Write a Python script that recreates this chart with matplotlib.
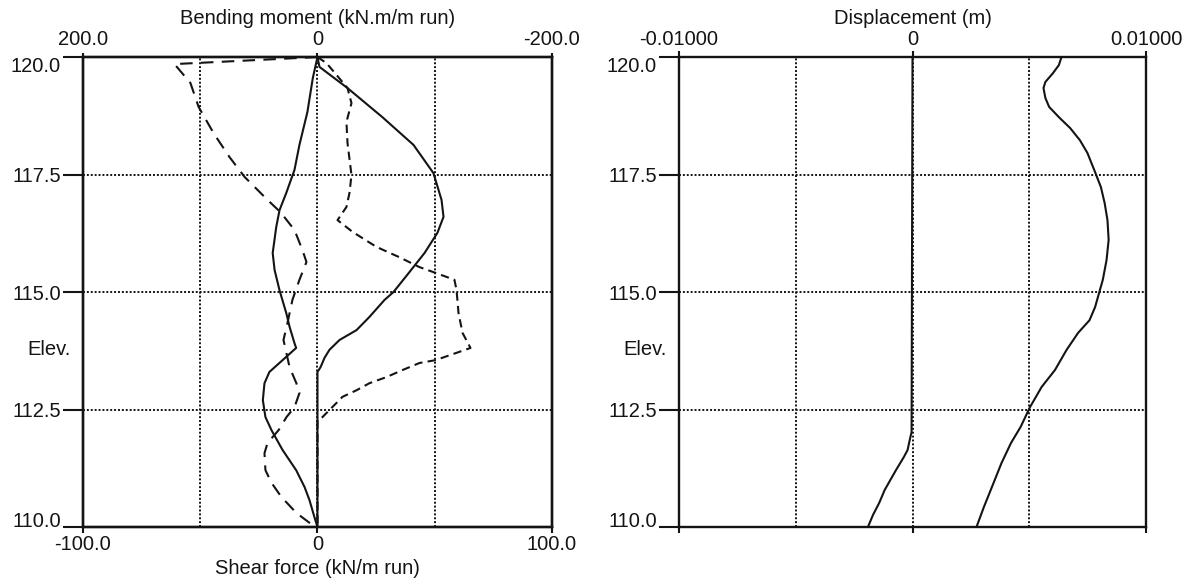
import matplotlib
matplotlib.use('Agg')
import matplotlib.pyplot as plt
from matplotlib.ticker import FixedLocator, FuncFormatter

# --- wall results, elevation (m) vs value -------------------------------
# shear force (kN/m run), bottom scale of the left panel
shear_a_elev = [120.0, 119.55, 118.83, 118.13, 117.60, 117.11, 116.74, 116.38, 115.83,
                115.47, 115.04, 114.55, 114.26, 113.91, 113.81, 113.55, 113.30, 113.06,
                112.70, 112.34, 112.06, 111.64, 111.21, 110.85, 110.57, 110.21, 110.0]
shear_a = [0, -2.0, -4.3, -7.7, -9.8, -13.3, -16.2, -17.6, -19.1,
           -18.3, -16.2, -13.3, -11.9, -9.8, -9.1, -14.9, -20.5, -22.6,
           -23.3, -22.2, -19.6, -14.9, -9.1, -5.5, -3.4, -1.3, 0]

shear_b_elev = [120.0, 119.85, 119.45, 118.94, 118.38, 117.87, 117.45, 116.96, 116.70,
                116.32, 115.89, 115.64, 115.26, 114.83, 114.34, 113.98, 113.40, 113.06,
                112.85, 112.55, 112.34, 112.06, 111.79, 111.57, 111.21, 110.94, 110.64,
                110.30, 110.04, 110.0]
shear_b = [0, -61.0, -54.2, -50.7, -44.3, -37.5, -31.1, -21.3, -15.8,
           -9.8, -6.4, -4.7, -7.7, -10.7, -12.8, -14.5, -11.9, -9.0,
           -7.7, -9.8, -13.2, -16.6, -21.3, -22.6, -22.2, -19.6, -15.4,
           -9.0, -2.1, 0]

# bending moment (kN.m/m run), top scale of the left panel
moment_a_elev = [120.0, 119.79, 119.34, 118.72, 118.13, 117.53, 116.96, 116.60, 116.26,
                 115.83, 115.32, 115.0, 114.83, 114.47, 114.19, 113.98, 113.77, 113.60,
                 113.40, 113.30, 110.0]
moment_a = [0, -1.7, -25.6, -55.4, -81.9, -98.9, -105.8, -107.5, -102.3,
            -91.3, -75.1, -64.8, -57.1, -44.3, -33.3, -18.8, -10.2, -6.0,
            -2.6, 0, 0]

moment_b_elev = [120.0, 119.87, 119.62, 119.34, 119.02, 118.62, 118.17, 117.49, 117.11,
                 116.81, 116.53, 116.28, 115.96, 115.74, 115.53, 115.40, 115.26, 115.04,
                 114.55, 114.13, 113.81, 113.55, 113.49, 113.34, 113.19, 113.06, 112.91,
                 112.77, 112.64, 112.49, 112.34, 112.28, 110.0]
moment_b = [0, -7.7, -16.2, -25.6, -29.0, -24.7, -25.6, -29.0, -27.3,
            -24.7, -17.1, -29.9, -50.3, -69.9, -87.0, -101.5, -116.8, -118.6,
            -120.3, -123.7, -130.5, -100.6, -87.0, -72.5, -58.8, -44.3, -33.3,
            -21.3, -16.2, -10.2, -4.3, 0, 0]

# displacement (m), right panel
disp_a_elev = [120.0, 112.02, 111.85, 111.64, 111.49, 111.21, 111.0, 110.79, 110.51,
               110.26, 110.0]
disp_a = [0, -0.00004, -0.00012, -0.00021, -0.00037, -0.00071, -0.00095, -0.00119,
          -0.00143, -0.00169, -0.00191]

disp_b_elev = [120.0, 119.83, 119.66, 119.47, 119.34, 119.13, 118.94, 118.72, 118.49,
               118.23, 117.96, 117.55, 117.23, 116.89, 116.53, 116.11, 115.68, 115.26,
               114.98, 114.68, 114.40, 114.13, 113.77, 113.34, 112.98, 112.55, 112.13,
               111.79, 111.36, 110.85, 110.43, 110.0]
disp_b = [0.00638, 0.00627, 0.00602, 0.00569, 0.00561, 0.00569, 0.00585, 0.00627, 0.00675,
          0.00717, 0.00749, 0.00782, 0.00807, 0.00823, 0.00835, 0.00840, 0.00831, 0.00815,
          0.00799, 0.00782, 0.00758, 0.00709, 0.00660, 0.00610, 0.00553, 0.00503, 0.00463,
          0.00422, 0.00381, 0.00340, 0.00306, 0.00274]

elev_ticks = [110.0, 112.5, 115.0, 117.5, 120.0]
shear_ticks = [-100.0, 0.0, 100.0]
shear_grid = [-50.0, 50.0]
moment_ticks = [200.0, 0.0, -200.0]
disp_ticks = [-0.01, 0.0, 0.01]
disp_grid = [-0.005, 0.005]

plt.rcParams['font.family'] = ['Liberation Sans', 'DejaVu Sans']
plt.rcParams['font.size'] = 14.5
plt.rcParams['axes.unicode_minus'] = False

INK = '#141414'
LW = 1.5
DOTS = (0, (1, 1))


def fmt_num(v, pos):
    return '0' if v == 0 else f'{v:.1f}'


def fmt_disp(v, pos):
    return '0' if v == 0 else f'{v:.5f}'


def style_frame(ax):
    for sp in ax.spines.values():
        sp.set_linewidth(1.7)
        sp.set_color(INK)


def setup_elev_axis(ax):
    ax.set_ylim(110.0, 120.0)
    ax.yaxis.set_major_locator(FixedLocator(elev_ticks))
    ax.yaxis.set_major_formatter(FuncFormatter(fmt_num))
    ax.tick_params(axis='y', direction='out', length=14.5, width=1.5, pad=1.5,
                   colors=INK, labelsize=14.5)
    ax.grid(True, axis='y', which='major', color=INK, linestyle=DOTS, linewidth=1.4)
    # keep the end labels inside the elevation range
    ticks = ax.yaxis.get_major_ticks()
    ticks[0].label1.set_va('baseline')
    ticks[-1].label1.set_va('top')
    ax.set_ylabel('Elev.', rotation=0, ha='center', va='center', color=INK)
    ax.yaxis.set_label_coords(-0.073, 0.377)


fig = plt.figure(figsize=(11.94, 5.88), dpi=100)
fig.patch.set_facecolor('white')

# ---------------- left panel: shear force / bending moment ----------------
ax_sf = fig.add_axes([0.0695, 0.1037, 0.3928, 0.7993])
ax_sf.set_axisbelow(True)
ax_sf.set_xlim(-100, 100)
ax_sf.xaxis.set_major_locator(FixedLocator(shear_ticks))
ax_sf.xaxis.set_minor_locator(FixedLocator(shear_grid))
ax_sf.xaxis.set_major_formatter(FuncFormatter(fmt_num))
ax_sf.tick_params(axis='x', which='major', direction='out', length=4, width=1.5,
                  pad=2, colors=INK)
ax_sf.tick_params(axis='x', which='minor', length=0)
ax_sf.grid(True, axis='x', which='both', color=INK, linestyle=DOTS, linewidth=1.4)
setup_elev_axis(ax_sf)
ax_sf.set_xlabel('Shear force (kN/m run)', labelpad=3, color=INK)

ax_sf.plot(shear_a, shear_a_elev, color=INK, lw=LW)
ax_sf.plot(shear_b, shear_b_elev, color=INK, lw=LW, linestyle=(0, (6, 4)))

ax_bm = ax_sf.twiny()
ax_bm.set_xlim(200, -200)
ax_bm.xaxis.set_major_locator(FixedLocator(moment_ticks))
ax_bm.xaxis.set_major_formatter(FuncFormatter(fmt_num))
ax_bm.tick_params(axis='x', direction='out', length=3, width=1.5, pad=3, colors=INK)
ax_bm.set_xlabel('Bending moment (kN.m/m run)', labelpad=4, color=INK)
ax_bm.plot(moment_a, moment_a_elev, color=INK, lw=LW)
ax_bm.plot(moment_b, moment_b_elev, color=INK, lw=LW, linestyle=(0, (4, 2.5)))
style_frame(ax_sf)
style_frame(ax_bm)

# ---------------- right panel: displacement ----------------
ax_d = fig.add_axes([0.5687, 0.1037, 0.3911, 0.7993])
ax_d.set_axisbelow(True)
ax_d.set_xlim(-0.01, 0.01)
ax_d.xaxis.set_major_locator(FixedLocator(disp_ticks))
ax_d.xaxis.set_minor_locator(FixedLocator(disp_grid))
ax_d.xaxis.set_major_formatter(FuncFormatter(fmt_disp))
ax_d.tick_params(axis='x', which='major', direction='out', length=4, width=1.5,
                 pad=2, colors=INK, top=True, bottom=True,
                 labeltop=True, labelbottom=False)
ax_d.tick_params(axis='x', which='minor', length=0)
ax_d.grid(True, axis='x', which='both', color=INK, linestyle=DOTS, linewidth=1.4)
setup_elev_axis(ax_d)
ax_d.xaxis.set_label_position('top')
ax_d.set_xlabel('Displacement (m)', labelpad=4, color=INK)

ax_d.plot(disp_a, disp_a_elev, color=INK, lw=LW)
ax_d.plot(disp_b, disp_b_elev, color=INK, lw=LW)
style_frame(ax_d)

fig.savefig('out.png', dpi=100, facecolor='white')
